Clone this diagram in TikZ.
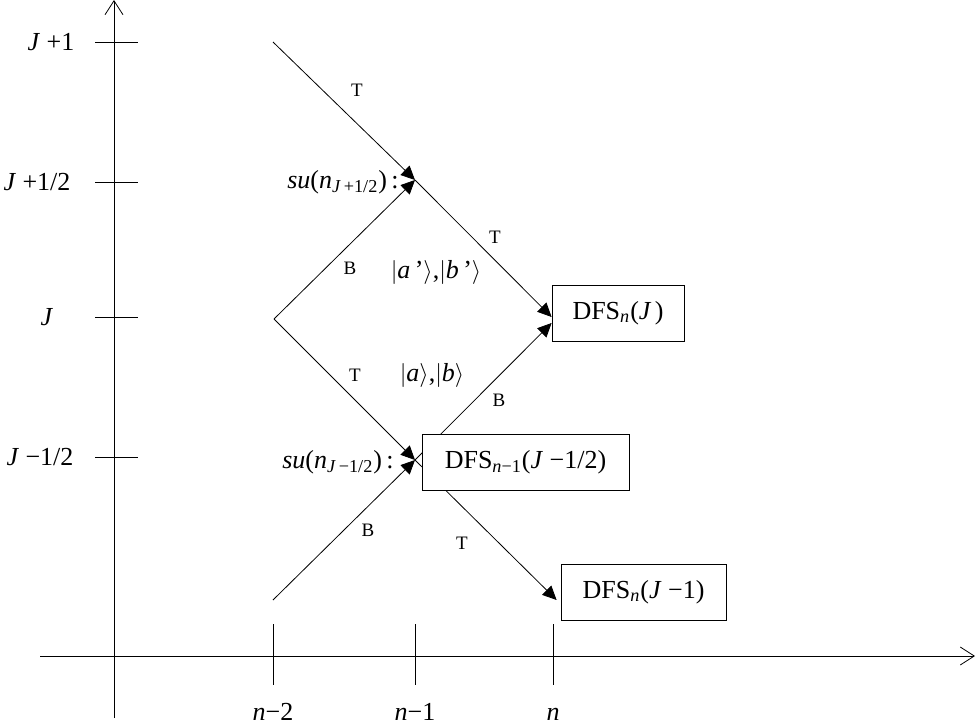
\documentclass[tikz,border=0pt]{standalone}
\usepackage{fontspec}
\setmainfont{Liberation Serif}
\usetikzlibrary{arrows.meta,backgrounds}

\begin{document}
\begin{tikzpicture}[x=0.5pt,y=-0.5pt,
    every node/.style={font=\fontsize{13}{15}\selectfont},
    axis/.style={-{Straight Barb[length=7pt,width=9pt]}},
    flow/.style={-{Triangle[length=7pt,width=6.5pt]}},
    box/.style={draw,fill=white,minimum height=28pt,inner sep=0pt},
    lab/.style={font=\fontsize{9.5}{11}\selectfont}]
  \useasboundingbox (0,0) rectangle (976,723);

  \draw[axis] (114,718) -- (114,0);
  \draw[axis] (40,656) -- (975,656);
  \foreach \y/\t/\lx in {42/{\textit{J} +1}/51, 182/{\textit{J} +1/2}/37,
      317/\textit{J}/47, 457/{\textit{J} −1/2}/40}{
    \draw (95,\y) -- (138,\y);
    \node (yl\y) at (\lx,\y) {\t};
  }
  \foreach \x/\t in {273/{\textit{n}−2}, 415/{\textit{n}−1}, 553/\textit{n}}{
    \draw (\x,624) -- (\x,685);
    \node[anchor=base,inner sep=0pt] (xl\x) at (\x,720) {\t};
  }

  \node[box,minimum width=66pt] (dfsJ) at (618,313) {DFS\textsubscript{\textit{n}}(\textit{J\,})};
  \node[box,minimum width=103.5pt] (dfsH) at (525.5,462) {DFS\textsubscript{\textit{n}−1}(\textit{J} −1/2)};
  \node[box,minimum width=82.5pt] (dfsL) at (643.5,592) {DFS\textsubscript{\textit{n}}(\textit{J} −1)};

  \coordinate (top) at (273,42);
  \coordinate (up) at (415,180);
  \coordinate (mid) at (274,319);
  \coordinate (low) at (415,460);
  \coordinate (bot) at (273,600);

  \draw[flow] (top) -- (up);
  \draw[flow] (mid) -- (up);
  \draw[flow] (up) -- ([yshift=-2pt]dfsJ.west);
  \draw[flow] (mid) -- (low);
  \draw[flow] (bot) -- (low);
  \begin{scope}[on background layer]
    \draw[flow] (low) -- ([yshift=-5pt]dfsJ.west);
    \draw[flow] (low) -- ([xshift=-2pt,yshift=-4pt]dfsL.west);
  \end{scope}

  \node[anchor=east,inner sep=0pt] (su1) at (399,182) {\textit{su}(\textit{n}\textsubscript{\textit{J}\,+1/2})\,:};
  \node[anchor=east,inner sep=0pt] (su0) at (394,462) {\textit{su}(\textit{n}\textsubscript{\textit{J}\,−1/2})\,:};
  \node (ket1) at (436,272) {$|$\textit{a}\,'$\rangle$,$|$\textit{b}\,'$\rangle$};
  \node (ket0) at (432,375) {$|$\textit{a}$\rangle$,$|$\textit{b}$\rangle$};

  \node[lab] (t1) at (357,90) {T};
  \node[lab] (t2) at (495,237) {T};
  \node[lab] (t3) at (355,375) {T};
  \node[lab] (t4) at (462,543) {T};
  \node[lab] (b1) at (350,268) {B};
  \node[lab] (b2) at (499,400) {B};
  \node[lab] (b3) at (368,530) {B};
\end{tikzpicture}
\end{document}
